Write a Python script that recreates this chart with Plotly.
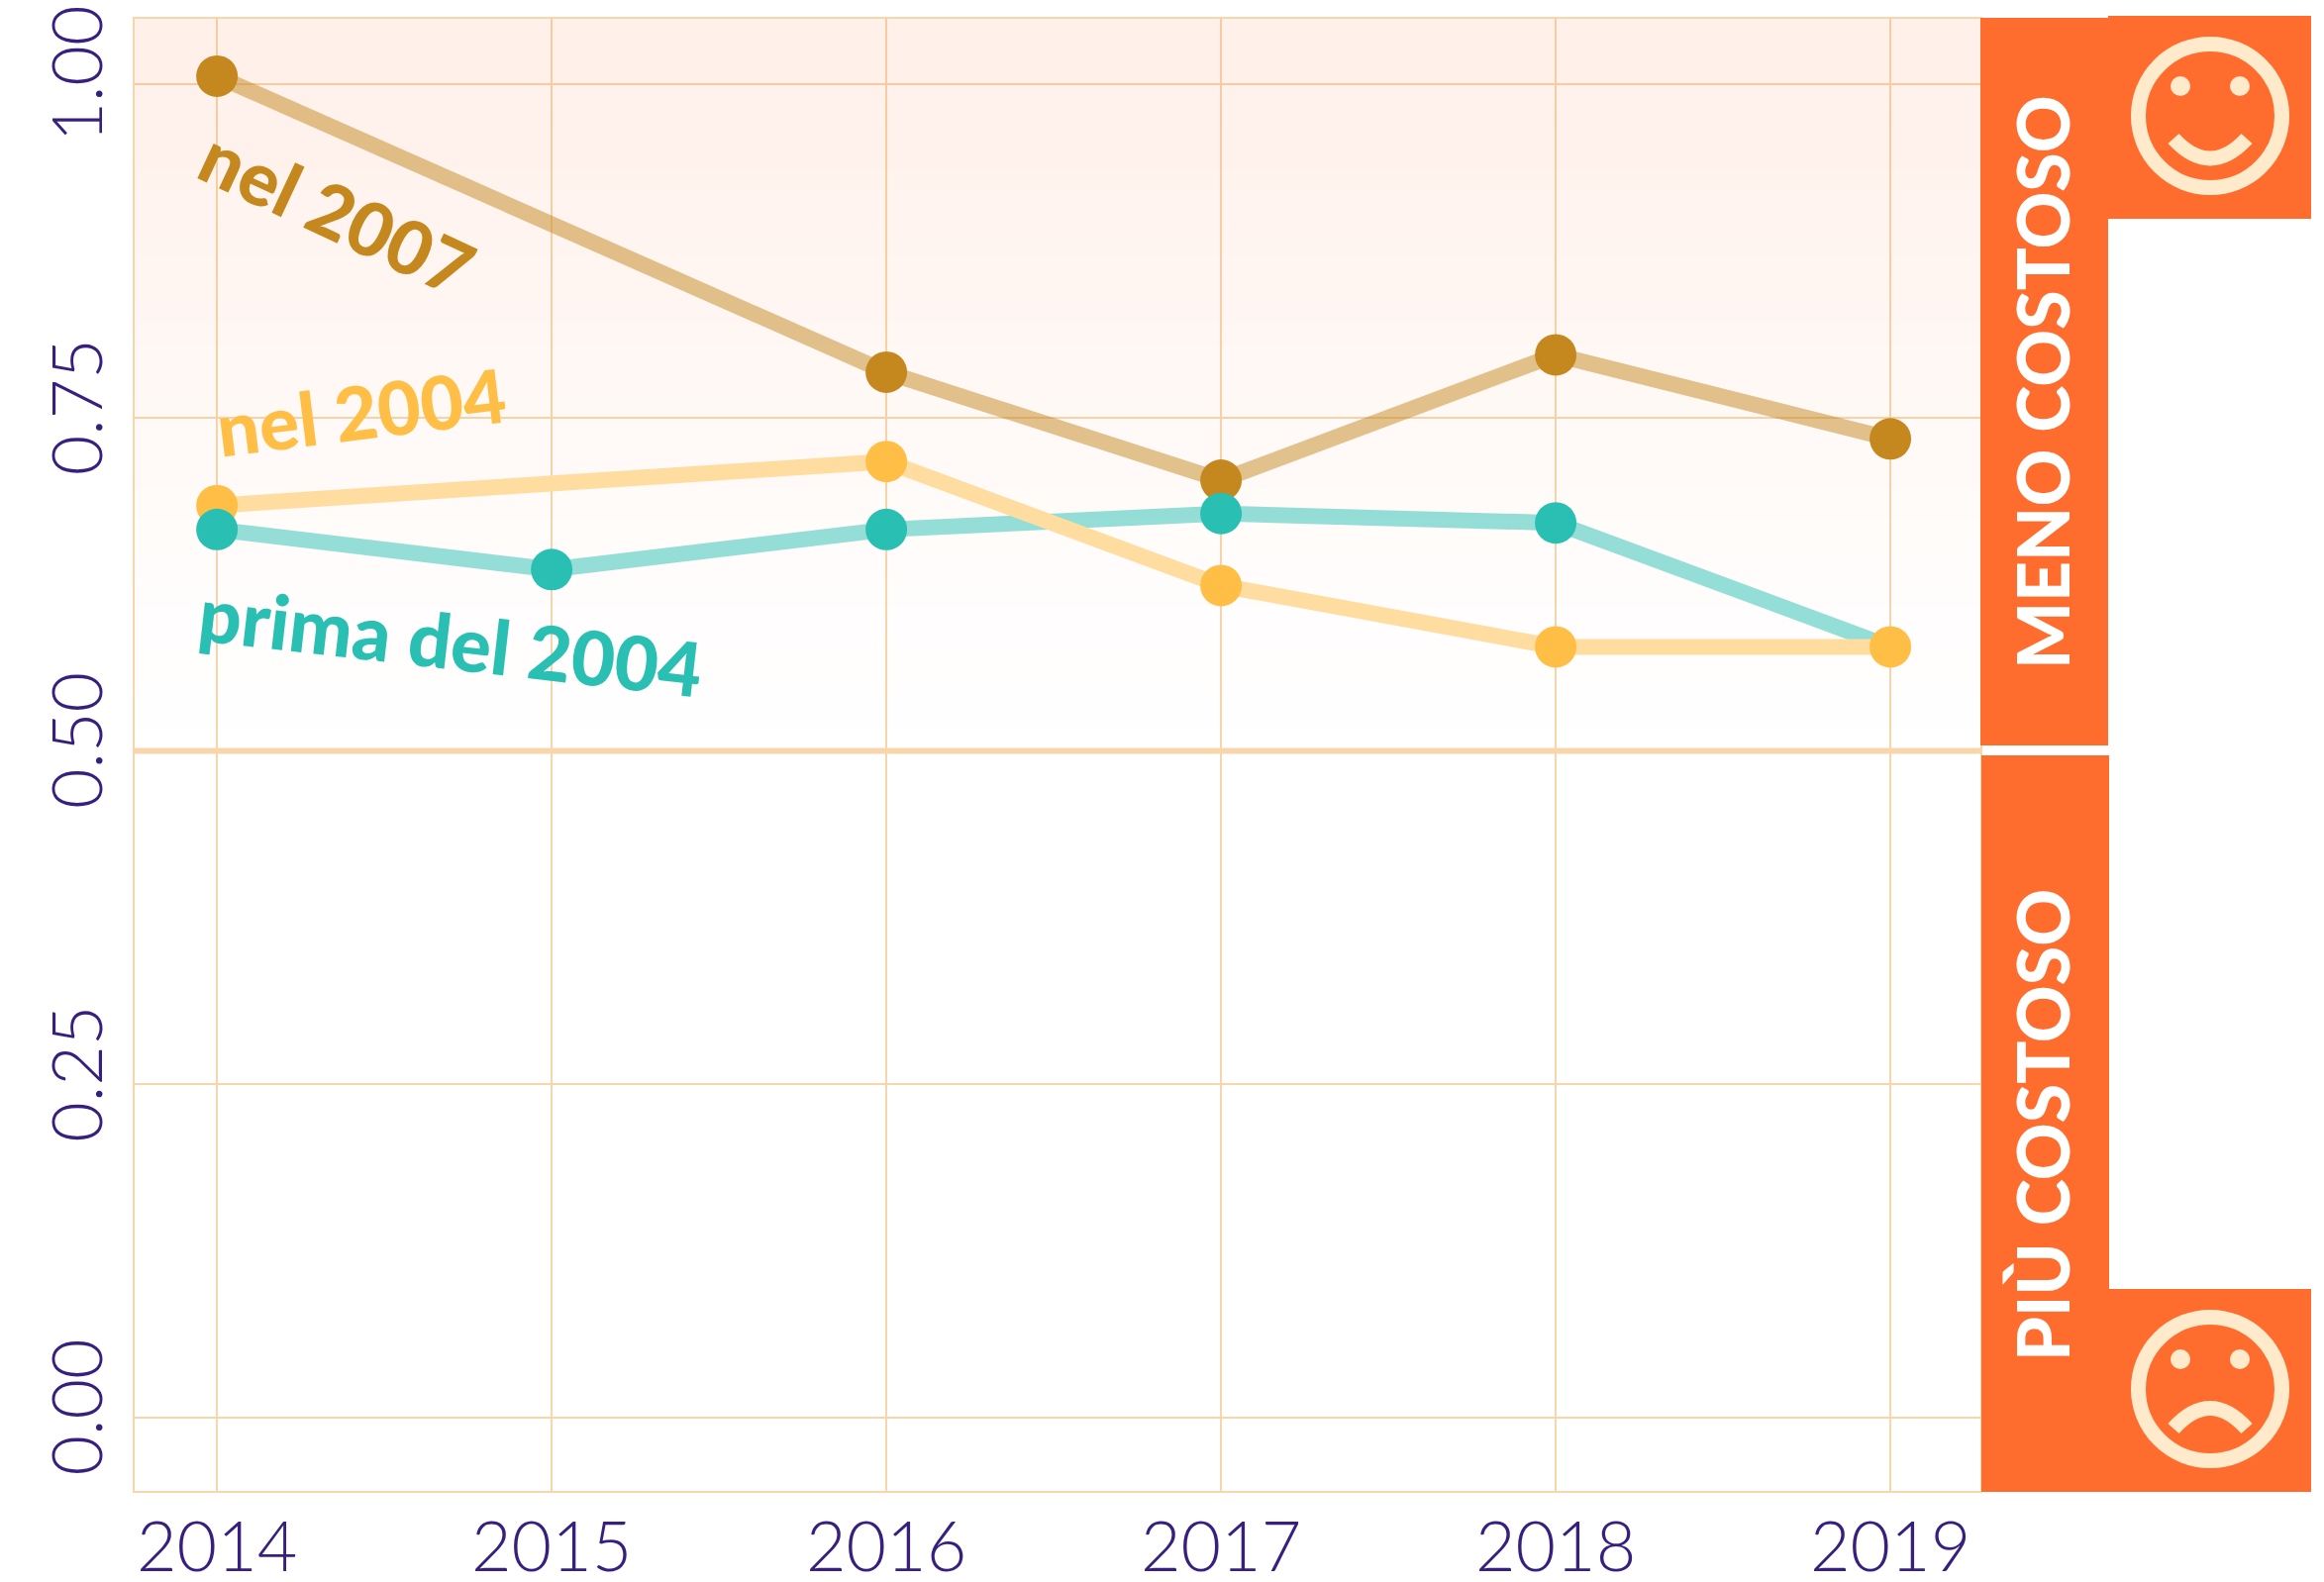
import plotly.graph_objects as go

years = [2014, 2015, 2016, 2017, 2018, 2019]
y_ticks = [0.0, 0.25, 0.5, 0.75, 1.0]
prima_2004 = [0.666, 0.636, 0.666, 0.678, 0.671, 0.578]
prima_marker_opacity = [1, 1, 1, 1, 1, 0]
nel_2004 = [0.684, None, 0.717, 0.624, 0.578, 0.578]
nel_2007 = [1.006, None, 0.784, 0.703, 0.797, 0.734]
band_y = [0.5, 0.6, 0.7, 0.8, 0.9, 1.0, 1.05]
band_z = [0.0, 0.12, 0.3, 0.52, 0.75, 1.0, 1.0]

W, H = 2347, 1598
L, R, T, B = 136, 2000, 19, 1506
TEAL, YEL, BRN = "#2ABFB3", "#FFBF47", "#C4881F"
ORANGE, CREAM, GRID, NAVY = "#FF6D2E", "#FFEBCC", "#F7D6AC", "#371F7F"


def px(x):
    return (x - L) / (R - L)


def py(y):
    return (B - y) / (B - T)


fig = go.Figure()
fig.add_trace(go.Heatmap(
    x=[2013, 2020], y=band_y, z=[[v, v] for v in band_z], zsmooth="best", showscale=False,
    hoverinfo="skip", zmin=0, zmax=1,
    colorscale=[[0, "rgba(255,109,46,0)"], [1, "rgba(255,109,46,0.1)"]],
))


def add_series(vals, color, line_color, opacity=1):
    fig.add_trace(go.Scatter(
        x=years, y=vals, mode="lines", connectgaps=True, showlegend=False,
        line=dict(color=line_color, width=16),
    ))
    return go.Scatter(x=years, y=vals, mode="markers", showlegend=False,
                      marker=dict(color=color, size=42, opacity=opacity, line=dict(width=0)))


marks = [
    add_series(nel_2007, BRN, "rgba(196,136,31,0.5)"),
    add_series(prima_2004, TEAL, "rgba(42,191,179,0.5)", prima_marker_opacity),
    add_series(nel_2004, YEL, "#FFDC9F"),
]
for i in (0, 2, 1):
    fig.add_trace(marks[i])

shapes = [dict(type="line", xref="paper", x0=0, x1=1, yref="y", y0=0.5, y1=0.5,
               line=dict(color=GRID, width=6), layer="below")]


def rect(x0, y0, x1, y1):
    shapes.append(dict(type="rect", xref="paper", yref="paper", x0=px(x0), x1=px(x1), y0=py(y1), y1=py(y0),
                       fillcolor=ORANGE, line=dict(width=0)))


rect(2000, 18, 2129, 753)
rect(2129, 16, 2334, 221)
rect(2001, 763, 2130, 1507)
rect(2130, 1302, 2334, 1507)


def face(cy, end_dy, ctrl_dy):
    cx = 2232
    shapes.append(dict(type="circle", xref="paper", yref="paper", x0=px(cx - 72.5), x1=px(cx + 72.5),
                       y0=py(cy + 72.5), y1=py(cy - 72.5), line=dict(color=CREAM, width=15)))
    for ex in (cx - 30, cx + 30):
        shapes.append(dict(type="circle", xref="paper", yref="paper", x0=px(ex - 10), x1=px(ex + 10),
                           y0=py(cy - 20), y1=py(cy - 40), fillcolor=CREAM, line=dict(width=0)))
    shapes.append(dict(type="path", xref="paper", yref="paper",
                       path=f"M {px(cx - 37)} {py(cy + end_dy)} Q {px(cx)} {py(cy + ctrl_dy)} "
                            f"{px(cx + 37)} {py(cy + end_dy)}",
                       line=dict(color=CREAM, width=15)))


face(117, 23, 63)
face(1403, 40, -1)

notes = [
    ("nel 2007", 341, 214, 25, BRN, 75),
    ("nel 2004", 365, 415, -7, YEL, 75),
    ("prima del 2004", 455, 646, 6.5, TEAL, 76),
    ("MENO COSTOSO", 2062, 386, -90, "#FFFFFF", 71.5),
    ("PIÙ COSTOSO", 2062, 1137, -90, "#FFFFFF", 71.5),
]
annotations = [
    dict(text=t, x=px(x), y=py(y), xref="paper", yref="paper", textangle=a, showarrow=False,
         xanchor="center", yanchor="middle", font=dict(color=c, size=s, family="Lato", weight=900))
    for t, x, y, a, c, s in notes
]

axis = dict(showgrid=True, gridcolor=GRID, gridwidth=2, zeroline=False, showline=True, mirror=True,
            linecolor=GRID, linewidth=2, ticks="", automargin=False,
            tickfont=dict(family="Lato", weight=300, size=70, color=NAVY))
fig.update_layout(
    width=W, height=H, autosize=False, margin=dict(l=L, r=W - R, t=T, b=H - B, pad=0),
    paper_bgcolor="#FFFFFF", plot_bgcolor="#FFFFFF", showlegend=False,
    shapes=shapes, annotations=annotations,
    xaxis=dict(axis, range=[2013.754, 2019.269], tickmode="array", tickvals=years,
               ticktext=[str(v) for v in years], ticklabelstandoff=-5),
    yaxis=dict(axis, range=[-0.055, 1.049], tickmode="array", tickvals=y_ticks,
               ticktext=[f"{v:.2f}" for v in y_ticks], tickangle=-90, ticklabelstandoff=3),
)
fig.write_html("out.html", config=dict(displayModeBar=False),
               post_script="document.body.style.margin='0';document.documentElement.style.overflow='hidden';")
